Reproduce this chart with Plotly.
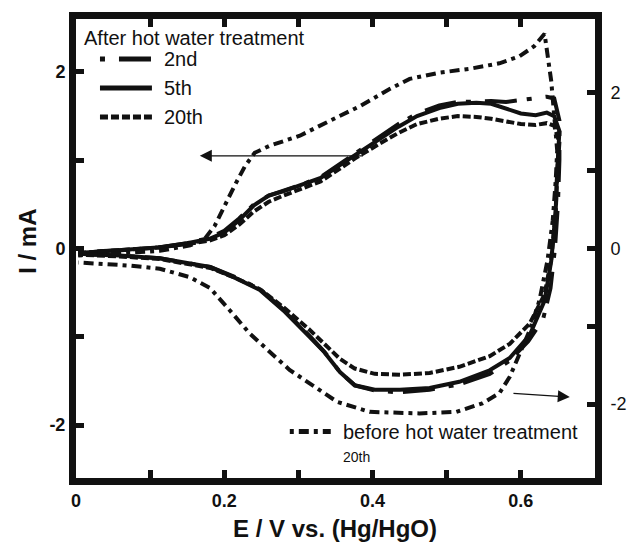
import plotly.graph_objects as go

# ---- data (E / V, I / mA) ----
# 2nd cycle after hot water treatment (left axis)
x_2nd = [0.003, 0.06, 0.11, 0.15, 0.18, 0.20, 0.22, 0.24, 0.26, 0.28, 0.30, 0.33, 0.355, 0.38, 0.41, 0.435, 0.46, 0.49, 0.515, 0.54, 0.56, 0.58, 0.60, 0.62, 0.635, 0.645, 0.652,
         0.652, 0.65, 0.646, 0.64, 0.63, 0.61, 0.585, 0.558, 0.517, 0.477, 0.437, 0.403, 0.376, 0.356, 0.335, 0.315, 0.282, 0.248, 0.214, 0.181, 0.147, 0.113, 0.059, 0.003]
y_2nd = [-0.04, -0.02, 0.01, 0.06, 0.12, 0.20, 0.34, 0.50, 0.60, 0.65, 0.71, 0.81, 0.95, 1.10, 1.26, 1.41, 1.53, 1.62, 1.66, 1.67, 1.67, 1.66, 1.68, 1.71, 1.72, 1.70, 1.45,
         1.0, 0.5, 0.0, -0.45, -0.80, -1.05, -1.27, -1.42, -1.54, -1.60, -1.63, -1.61, -1.55, -1.40, -1.17, -0.99, -0.71, -0.46, -0.32, -0.21, -0.16, -0.11, -0.08, -0.06]

# 5th cycle (left axis)
x_5th = [0.003, 0.06, 0.11, 0.15, 0.18, 0.20, 0.22, 0.24, 0.26, 0.28, 0.30, 0.33, 0.355, 0.38, 0.41, 0.435, 0.46, 0.49, 0.515, 0.54, 0.56, 0.58, 0.60, 0.62, 0.635, 0.645, 0.652,
         0.649, 0.647, 0.641, 0.632, 0.612, 0.585, 0.558, 0.517, 0.477, 0.437, 0.403, 0.376, 0.356, 0.335, 0.315, 0.282, 0.248, 0.214, 0.181, 0.147, 0.113, 0.059, 0.003]
y_5th = [-0.05, -0.02, 0.01, 0.06, 0.11, 0.18, 0.32, 0.49, 0.60, 0.65, 0.71, 0.80, 0.94, 1.08, 1.24, 1.38, 1.50, 1.59, 1.64, 1.65, 1.64, 1.58, 1.53, 1.51, 1.54, 1.50, 1.33,
         0.88, 0.43, -0.14, -0.59, -0.98, -1.24, -1.38, -1.51, -1.58, -1.60, -1.60, -1.55, -1.40, -1.175, -1.0, -0.72, -0.47, -0.33, -0.21, -0.16, -0.11, -0.08, -0.06]

# 20th cycle (left axis)
x_20th = [0.003, 0.06, 0.11, 0.15, 0.18, 0.20, 0.22, 0.24, 0.26, 0.28, 0.30, 0.33, 0.355, 0.38, 0.41, 0.435, 0.46, 0.49, 0.515, 0.54, 0.56, 0.58, 0.60, 0.62, 0.635, 0.645, 0.652,
          0.649, 0.647, 0.641, 0.632, 0.612, 0.585, 0.558, 0.517, 0.477, 0.437, 0.403, 0.376, 0.356, 0.335, 0.315, 0.282, 0.248, 0.214, 0.181, 0.147, 0.113, 0.059, 0.003]
y_20th = [-0.05, -0.02, 0.01, 0.05, 0.09, 0.15, 0.27, 0.42, 0.53, 0.60, 0.66, 0.76, 0.90, 1.04, 1.19, 1.31, 1.41, 1.47, 1.50, 1.49, 1.47, 1.44, 1.41, 1.40, 1.42, 1.39, 1.20,
          0.85, 0.40, -0.12, -0.52, -0.85, -1.08, -1.22, -1.34, -1.41, -1.43, -1.42, -1.36, -1.25, -1.08, -0.92, -0.68, -0.46, -0.33, -0.22, -0.17, -0.12, -0.09, -0.07]

# 20th cycle before hot water treatment (right axis)
x_before = [0.003, 0.059, 0.113, 0.154, 0.174, 0.187, 0.20, 0.214, 0.228, 0.241, 0.261, 0.302, 0.342, 0.383, 0.423, 0.45, 0.49, 0.531, 0.571, 0.598, 0.618, 0.632,
            0.641, 0.649, 0.647, 0.643, 0.636, 0.625, 0.612, 0.598, 0.585, 0.571, 0.548, 0.513, 0.463, 0.396, 0.352, 0.288, 0.261, 0.234, 0.207, 0.181, 0.154, 0.113, 0.073, 0.032, 0.003]
y_before = [-0.09, -0.06, -0.03, 0.04, 0.13, 0.29, 0.55, 0.81, 1.06, 1.23, 1.32, 1.45, 1.64, 1.83, 2.05, 2.18, 2.26, 2.31, 2.38, 2.47, 2.60, 2.76,
            2.15, 1.26, 0.87, 0.36, -0.15, -0.67, -1.05, -1.37, -1.65, -1.86, -1.99, -2.10, -2.12, -2.10, -1.97, -1.56, -1.33, -1.09, -0.79, -0.51, -0.37, -0.26, -0.22, -0.19, -0.18]

x_tickvals = [0, 0.1, 0.2, 0.3, 0.4, 0.5, 0.6]
x_ticktext = ["0", "", "0.2", "", "0.4", "", "0.6"]
y_tickvals = [-2, -1, 0, 1, 2]
y_ticktext = ["-2", "", "0", "", "2"]
y2_ticktext = ["-2", "", "0", "", "2"]

legend_title = "After hot water treatment"
legend_names = ["2nd", "5th", "20th"]
before_name = "before hot water treatment"
before_sub = "20th"

FONT = "Liberation Sans, Arial, sans-serif"
BLACK = "#111111"
LW = 4

DASH_2ND = "5px,14px,32px,10px"
DASH_20TH = "8px,3px"
DASH_BEFORE = "4px,5px,10px,5px"

W, H = 628, 546
PL, PR, PT, PB = 76, 595.5, 19, 478.5          # plot area in page pixels
L, T = PL, PT
R, B = W - PR, H - PB
pw, ph = PR - PL, PB - PT

def px(xp):
    return (xp - PL) / pw

def py(yp):
    return (PB - yp) / ph

fig = go.Figure()
fig.add_trace(go.Scatter(x=x_2nd, y=y_2nd, mode="lines", line=dict(color=BLACK, width=LW, dash=DASH_2ND), showlegend=False))
fig.add_trace(go.Scatter(x=x_5th, y=y_5th, mode="lines", line=dict(color=BLACK, width=LW), showlegend=False))
fig.add_trace(go.Scatter(x=x_20th, y=y_20th, mode="lines", line=dict(color=BLACK, width=LW, dash=DASH_20TH), showlegend=False))
fig.add_trace(go.Scatter(x=x_before, y=y_before, mode="lines", yaxis="y2", line=dict(color=BLACK, width=LW, dash=DASH_BEFORE), showlegend=False))

# legend samples
for yy, dash in zip([59, 88, 117], [DASH_2ND, "solid", DASH_20TH]):
    fig.add_shape(type="line", xref="paper", yref="paper", x0=px(100), x1=px(152), y0=py(yy), y1=py(yy),
                  line=dict(color=BLACK, width=5, dash=dash))
fig.add_shape(type="line", xref="paper", yref="paper", x0=px(290), x1=px(331), y0=py(432), y1=py(432),
              line=dict(color=BLACK, width=5, dash=DASH_BEFORE))

ann = []
ann.append(dict(text=legend_title, x=px(82), y=py(38), xref="paper", yref="paper", xanchor="left", yanchor="middle",
                showarrow=False, font=dict(family=FONT, size=20, color=BLACK)))
for yy, name in zip([59, 88, 117], legend_names):
    ann.append(dict(text=name, x=px(162), y=py(yy), xref="paper", yref="paper", xanchor="left", yanchor="middle",
                    showarrow=False, font=dict(family=FONT, size=20, color=BLACK)))
ann.append(dict(text=before_name, x=px(341), y=py(432), xref="paper", yref="paper", xanchor="left", yanchor="middle",
                showarrow=False, font=dict(family=FONT, size=20, color=BLACK)))
ann.append(dict(text=before_sub, x=px(341), y=py(457), xref="paper", yref="paper", xanchor="left", yanchor="middle",
                showarrow=False, font=dict(family=FONT, size=14, color=BLACK)))
# axis titles
ann.append(dict(text="<b>I / mA</b>", x=px(28), y=py(242), xref="paper", yref="paper", xanchor="center", yanchor="middle",
                textangle=-90, showarrow=False, font=dict(family=FONT, size=24, color=BLACK)))
ann.append(dict(text="<b>E / V vs. (Hg/HgO)</b>", x=px(335), y=py(529), xref="paper", yref="paper", xanchor="center", yanchor="middle",
                showarrow=False, font=dict(family=FONT, size=24, color=BLACK)))
# arrows
ann.append(dict(text="", x=0.167, y=1.05, xref="x", yref="y", ax=0.389, ay=1.05, axref="x", ayref="y",
                showarrow=True, arrowhead=2, arrowsize=2, arrowwidth=1.2, arrowcolor=BLACK))
ann.append(dict(text="", x=0.666, y=-1.91, xref="x", yref="y2", ax=0.588, ay=-1.86, axref="x", ayref="y2",
                showarrow=True, arrowhead=2, arrowsize=2, arrowwidth=1.2, arrowcolor=BLACK))

fig.update_layout(
    width=W, height=H,
    margin=dict(l=L, r=R, t=T, b=B, autoexpand=False),
    paper_bgcolor="white", plot_bgcolor="white",
    showlegend=False,
    annotations=ann,
    xaxis=dict(range=[0, 0.7], showgrid=False, zeroline=False, showline=True, linecolor=BLACK, linewidth=7,
               mirror="ticks", ticks="inside", ticklen=8, tickwidth=5, tickcolor=BLACK, automargin=False,
               tickvals=x_tickvals, ticktext=x_ticktext,
               tickfont=dict(family=FONT, size=18, color=BLACK, weight="bold")),
    yaxis=dict(range=[-2.6, 2.6], showgrid=False, zeroline=False, showline=True, linecolor=BLACK, linewidth=7,
               mirror=True, ticks="inside", ticklen=8, tickwidth=5, tickcolor=BLACK, automargin=False,
               tickvals=y_tickvals, ticktext=y_ticktext,
               tickfont=dict(family=FONT, size=18, color=BLACK, weight="bold")),
    yaxis2=dict(range=[-2.95, 2.95], overlaying="y", side="right", showgrid=False, zeroline=False,
                showline=True, linecolor=BLACK, linewidth=7, ticks="inside", ticklen=8, tickwidth=5, tickcolor=BLACK,
                automargin=False, tickvals=y_tickvals, ticktext=y2_ticktext, ticklabelstandoff=5,
                tickfont=dict(family=FONT, size=18, color=BLACK)),
)

fig.write_html(
    "out.html",
    config={"displayModeBar": False},
    post_script="document.body.style.margin='0';document.body.style.overflow='hidden';",
)
